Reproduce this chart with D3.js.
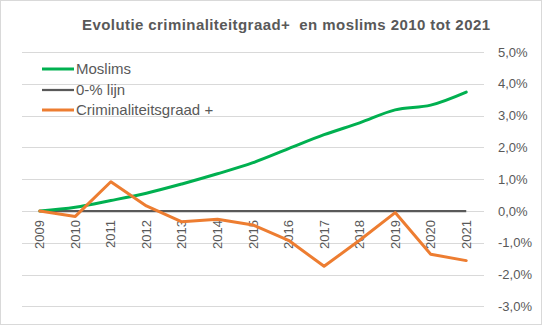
<!DOCTYPE html>
<html>
<head>
<meta charset="utf-8">
<script src="https://cdn.jsdelivr.net/npm/d3@7"></script>
<style>
  html, body { margin: 0; padding: 0; background: #fff; }
  svg { display: block; }
  text { font-family: "Liberation Sans", Arial, sans-serif; fill: #595959; }
</style>
</head>
<body>
<svg id="chart" width="542" height="325"></svg>
<script>
const years = ["2009","2010","2011","2012","2013","2014","2015","2016","2017","2018","2019","2020","2021"];
const moslims = [0, 0.12, 0.33, 0.56, 0.85, 1.17, 1.52, 1.96, 2.40, 2.77, 3.18, 3.33, 3.74];
const nulLijn = [0, 0, 0, 0, 0, 0, 0, 0, 0, 0, 0, 0, 0];
const criminaliteit = [0, -0.17, 0.92, 0.16, -0.34, -0.26, -0.44, -0.92, -1.74, -0.92, -0.05, -1.36, -1.56];
const yTicks = [-3, -2, -1, 0, 1, 2, 3, 4, 5];
const title = "Evolutie criminaliteitgraad+  en moslims 2010 tot 2021";
const seriesNames = ["Moslims", "0-% lijn", "Criminaliteitsgraad +"];
const seriesColors = ["#00B050", "#595959", "#ED7D31"];

const W = 542, H = 325;
const svg = d3.select("#chart");

// chart border
svg.append("rect").attr("x", 0.5).attr("y", 0.5).attr("width", W - 1).attr("height", H - 1)
  .attr("fill", "#fff").attr("stroke", "#d9d9d9");

const x = d3.scaleBand().domain(years).range([22, 484]).padding(0);
const y = d3.scaleLinear().domain([-3, 5]).range([306.4, 52]);
const cx = d => x(d) + x.bandwidth() / 2;

// gridlines
svg.append("g").selectAll("line").data(yTicks).join("line")
  .attr("x1", 22).attr("x2", 484)
  .attr("y1", d => Math.round(y(d)) + 0.5).attr("y2", d => Math.round(y(d)) + 0.5)
  .attr("stroke", "#d9d9d9").attr("stroke-width", 1);

// right axis labels
const fmt = v => v.toFixed(1).replace(".", ",") + "%";
svg.append("g").selectAll("text").data(yTicks).join("text")
  .attr("x", 498).attr("y", d => y(d)).attr("dy", "0.35em")
  .attr("font-size", 13).text(fmt);

// x labels (rotated)
svg.append("g").selectAll("text").data(years).join("text")
  .attr("transform", d => `translate(${cx(d)},220) rotate(-90)`)
  .attr("text-anchor", "end").attr("dy", "0.35em")
  .attr("font-size", 13).text(d => d);

// series
const straight = d3.line().x((d, i) => cx(years[i])).y(d => y(d));
const smooth = d3.line().x((d, i) => cx(years[i])).y(d => y(d)).curve(d3.curveCatmullRom.alpha(0.5));

svg.append("path").datum(nulLijn).attr("d", straight)
  .attr("fill", "none").attr("stroke", seriesColors[1]).attr("stroke-width", 2.25);
svg.append("path").datum(moslims).attr("d", smooth)
  .attr("fill", "none").attr("stroke", seriesColors[0]).attr("stroke-width", 3)
  .attr("stroke-linejoin", "round").attr("stroke-linecap", "round");
svg.append("path").datum(criminaliteit).attr("d", straight)
  .attr("fill", "none").attr("stroke", seriesColors[2]).attr("stroke-width", 3)
  .attr("stroke-linejoin", "round").attr("stroke-linecap", "round");

// legend
const legendY = [69, 90, 110];
const lg = svg.append("g");
seriesNames.forEach((name, i) => {
  lg.append("line").attr("x1", 42).attr("x2", 74).attr("y1", legendY[i]).attr("y2", legendY[i])
    .attr("stroke", seriesColors[i]).attr("stroke-width", i === 1 ? 2.25 : 3);
  lg.append("text").attr("x", 76).attr("y", legendY[i]).attr("dy", "0.35em")
    .attr("font-size", 15).text(name);
});

// title
svg.append("text").attr("x", 286).attr("y", 30).attr("text-anchor", "middle")
  .attr("font-size", 15).attr("font-weight", "bold")
  .attr("textLength", 408).attr("lengthAdjust", "spacing")
  .style("white-space", "pre").text(title);
</script>
</body>
</html>
